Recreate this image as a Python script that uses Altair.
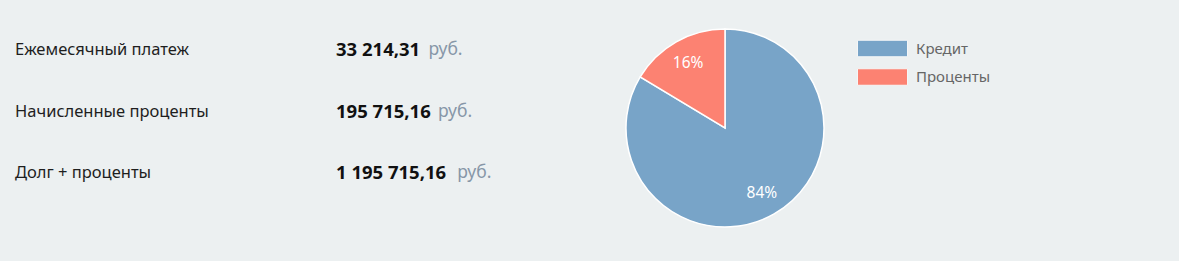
import altair as alt
import pandas as pd

# --- data ---
row_labels = ["Ежемесячный платеж", "Начисленные проценты", "Долг + проценты"]
row_amounts = ["33 214,31", "195 715,16", "1 195 715,16"]
unit = "руб."

categories = ["Кредит", "Проценты"]
values = [1000000.00, 195715.16]
pct_labels = ["84%", "16%"]
colors = ["#78A4C8", "#FC8272"]

rows = pd.DataFrame({"label": row_labels, "amount": row_amounts, "unit": [unit] * 3})
pie = pd.DataFrame({"cat": categories, "value": values, "pct": pct_labels, "idx": [0, 1]})

FONT = "Noto Sans"
BG = "#ECF0F1"

row_y = alt.Y("label:N", sort=row_labels, axis=None,
              scale=alt.Scale(type="point", domain=row_labels, range=[50, 173], padding=0))

labels = alt.Chart(rows).mark_text(align="left", baseline="middle", font=FONT,
                                   fontSize=16.5, color="#1e1e1e").encode(
    x=alt.value(15), y=row_y, text="label:N")

amounts = alt.Chart(rows).mark_text(align="left", baseline="middle", font=FONT,
                                    fontSize=18.5, fontWeight="bold", color="#111111").encode(
    x=alt.value(336), y=row_y, text="amount:N")

units = alt.Chart(rows).transform_calculate(
    ux="336 + length(datum.amount) * 9.6 + 6"
).mark_text(align="left", baseline="middle", font=FONT, fontSize=17.5, color="#8797A8").encode(
    x=alt.X("ux:Q", scale=alt.Scale(domain=[0, 1179], range=[0, 1179]), axis=None),
    y=row_y, text="unit:N")

color_scale = alt.Scale(domain=categories, range=colors)

arcs = alt.Chart(pie).mark_arc(outerRadius=99, stroke="#ffffff", strokeWidth=1.5).encode(
    theta=alt.Theta("value:Q", stack=True),
    color=alt.Color("cat:N", scale=color_scale, legend=None),
    order=alt.Order("idx:Q"),
    x=alt.value(725), y=alt.value(128))

arc_text = alt.Chart(pie).mark_text(radius=75, font=FONT, fontSize=15.5, color="#ffffff",
                                    baseline="middle", align="center").encode(
    theta=alt.Theta("value:Q", stack=True),
    order=alt.Order("idx:Q"),
    text="pct:N",
    x=alt.value(725), y=alt.value(128))

leg_y = alt.Y("cat:N", sort=categories, axis=None,
              scale=alt.Scale(type="point", domain=categories, range=[48.5, 77], padding=0))

leg_sym = alt.Chart(pie).mark_point(shape="M-1,-0.33H1V0.33H-1Z", size=2500, filled=True,
                                    opacity=1, stroke="#f4f6f7", strokeWidth=1).encode(
    x=alt.value(882.5), y=leg_y,
    fill=alt.Fill("cat:N", scale=color_scale, legend=None))

leg_txt = alt.Chart(pie).mark_text(align="left", baseline="middle", font=FONT, fontSize=15,
                                   color="#666666").encode(
    x=alt.value(916), y=leg_y, text="cat:N")

chart = alt.layer(labels, amounts, units, arcs, arc_text, leg_sym, leg_txt).resolve_scale(
    y="independent", x="independent", color="independent"
).properties(
    width=1179, height=261, background=BG, padding=0,
    autosize=alt.AutoSizeParams(type="none")
).configure_view(stroke=None)

chart.save("out.html", embed_options={"renderer": "svg", "actions": False})
